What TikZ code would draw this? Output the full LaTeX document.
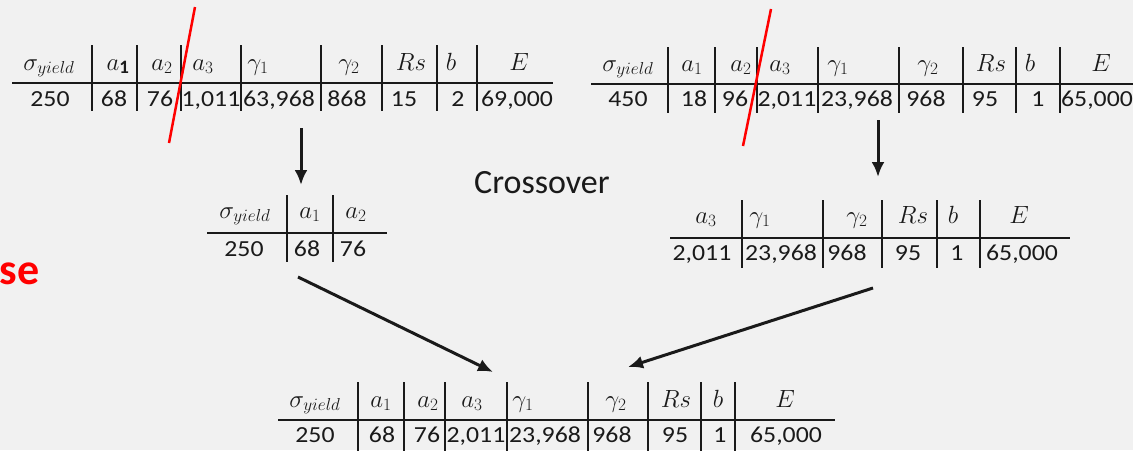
\documentclass[tikz,border=0pt]{standalone}
\usepackage{fontspec}
\usepackage{amsmath}
\usetikzlibrary{positioning,arrows.meta}
\setmainfont{Carlito}
\newfontfamily\cellfont[FakeStretch=1.12]{Carlito}
\definecolor{slidebg}{RGB}{241,241,241}
\definecolor{ink}{RGB}{26,26,26}
\definecolor{cutred}{RGB}{255,0,0}

\tikzset{
    hd/.style={anchor=base, inner sep=0pt, text=ink, font=\fontsize{27}{29}\selectfont},
    val/.style={anchor=base, inner sep=0pt, text=ink, font=\cellfont\fontsize{23}{25}\selectfont},
    colrule/.style={draw=ink, line width=1.8pt},
    headrule/.style={draw=ink, line width=2.5pt},
    cut/.style={draw=cutred, line width=2.5pt},
    flow/.style={draw=ink, line width=3pt, -{Latex[length=15pt,width=13pt]}}
}

\begin{document}
\begin{tikzpicture}[x=1pt,y=-1pt]
            \fill[slidebg] (0,0) rectangle (1133,450);
            \useasboundingbox (0,0) rectangle (1133,450);

            % first parent
            \draw[headrule] (12,83) -- (553,83);
            \foreach \x in {92,137,181,241,321,382,437,477}
                \draw[colrule] (\x,45) -- (\x,111);
            \foreach \x/\t [count=\i] in {49/{$\sigma_{yield}$},118/{$a_{\mathbf{1}}$},162/{$a_2$},203/{$a_3$},258/{$\gamma_1$},349/{$\gamma_2$},411/{$Rs$},451/{$b$},519/{$E$}}
                \node[hd] (pa-h\i) at (\x,70) {\t};
            \foreach \x/\t [count=\i] in {50/250,114/68,160/76,211/{1,011},279/{63,968},347/868,404/15,458/2,517/{69,000}}
                \node[val] (pa-v\i) at (\x,106) {\t};
            \draw[cut] (195,7) -- (169,143);

            % second parent
            \draw[headrule] (591,84) -- (1140,84);
            \foreach \x in {668,715,757,818,899,963,1016,1060}
                \draw[colrule] (\x,47) -- (\x,113);
            \foreach \x/\t [count=\i] in {628/{$\sigma_{yield}$},692/{$a_1$},741/{$a_2$},780/{$a_3$},838/{$\gamma_1$},928/{$\gamma_2$},991/{$Rs$},1030/{$b$},1101/{$E$}}
                \node[hd] (pb-h\i) at (\x,71) {\t};
            \foreach \x/\t [count=\i] in {628/450,694/18,735/96,787/{2,011},857/{23,968},926/968,985/95,1038/1,1097/{65,000}}
                \node[val] (pb-v\i) at (\x,106) {\t};
            \draw[cut] (771,9) -- (743,146);

            % left piece
            \draw[headrule] (207,233) -- (387,233);
            \foreach \x in {287,333}
                \draw[colrule] (\x,195) -- (\x,262);
            \foreach \x/\t [count=\i] in {245/{$\sigma_{yield}$},310/{$a_1$},356/{$a_2$}}
                \node[hd] (ca-h\i) at (\x,218) {\t};
            \foreach \x/\t [count=\i] in {244/250,307/68,353/76}
                \node[val] (ca-v\i) at (\x,256) {\t};

            % right piece
            \draw[headrule] (670,238) -- (1070,238);
            \foreach \x in {742,823,882,937,980}
                \draw[colrule] (\x,200) -- (\x,268);
            \foreach \x/\t [count=\i] in {706/{$a_3$},760/{$\gamma_1$},857/{$\gamma_2$},913/{$Rs$},953/{$b$},1019/{$E$}}
                \node[hd] (cb-h\i) at (\x,223) {\t};
            \foreach \x/\t [count=\i] in {702/{2,011},781/{23,968},847/968,908/95,957/1,1022/{65,000}}
                \node[val] (cb-v\i) at (\x,260) {\t};

            % offspring
            \draw[headrule] (278,420) -- (835,420);
            \foreach \x in {358,404,445,507,588,648,701,735}
                \draw[colrule] (\x,382) -- (\x,452);
            \foreach \x/\t [count=\i] in {315/{$\sigma_{yield}$},381/{$a_1$},428/{$a_2$},472/{$a_3$},523/{$\gamma_1$},616/{$\gamma_2$},676/{$Rs$},718/{$b$},785/{$E$}}
                \node[hd] (ch-h\i) at (\x,407) {\t};
            \foreach \x/\t [count=\i] in {315/250,382/68,427/76,476/{2,011},545/{23,968},612/968,675/95,720/1,786/{65,000}}
                \node[val] (ch-v\i) at (\x,442) {\t};

            % labels
            \node[text=ink, font=\fontsize{34}{36}\selectfont] (xover) at (542,183) {Crossover};
            \node[anchor=base east, text=cutred, font=\bfseries\fontsize{44}{46}\selectfont] (phase) at (43,284) {se};

            % arrows
            \coordinate (pa-out) at (301,128);
            \coordinate (ca-in) at (301,185);
            \coordinate (pb-out) at (878,120);
            \coordinate (cb-in) at (878,177);
            \coordinate (ca-out) at (298,277);
            \coordinate (cb-out) at (873,288);
            \coordinate (ch-ina) at (493,372);
            \coordinate (ch-inb) at (628,367);
            \draw[flow] (pa-out) -- (ca-in);
            \draw[flow] (pb-out) -- (cb-in);
            \draw[flow] (ca-out) -- (ch-ina);
            \draw[flow] (cb-out) -- (ch-inb);
        \end{tikzpicture}
\end{document}
